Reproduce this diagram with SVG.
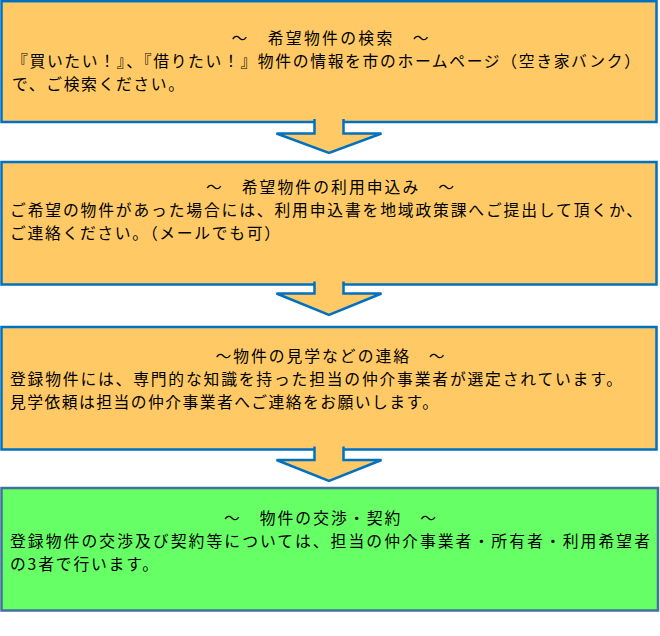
<svg xmlns="http://www.w3.org/2000/svg" width="660" height="636" viewBox="0 0 660 636">
<style>
.box{fill:#FFCA66;stroke:#0070C0;stroke-width:2.5}
.box-green{fill:#66FF66;stroke:#41719C;stroke-width:2.5}
.arrow{fill:#FFCA66;stroke:#0070C0;stroke-width:2.5;stroke-linejoin:miter}
text{font-family:"Noto Sans CJK JP","Noto Sans CJK SC",sans-serif;font-size:15.8px;fill:#000}
.title{text-anchor:middle}
</style>
<rect x="0" y="0" width="660" height="636" fill="#FFFFFF"/>
<g id="node-search">
<rect class="box" x="1.5" y="1.2" width="655" height="120.8"/>
<text class="title" x="330" y="44" textLength="197" lengthAdjust="spacing">～　希望物件の検索　～</text>
<text x="12" y="67" textLength="628" lengthAdjust="spacing">『買いたい！』、『借りたい！』物件の情報を市のホームページ（空き家バンク）</text>
<text x="12" y="90" textLength="172" lengthAdjust="spacing">で、ご検索ください。</text>
</g>
<g id="node-apply">
<rect class="box" x="1.5" y="162" width="655" height="122.5"/>
<text class="title" x="330" y="193" textLength="248" lengthAdjust="spacing">～　希望物件の利用申込み　～</text>
<text x="10" y="216" textLength="632" lengthAdjust="spacing">ご希望の物件があった場合には、利用申込書を地域政策課へご提出して頂くか、</text>
<text x="10" y="239" textLength="270" lengthAdjust="spacing">ご連絡ください。（メールでも可）</text>
</g>
<g id="node-visit">
<rect class="box" x="1.5" y="327" width="655" height="122.5"/>
<text class="title" x="330" y="362" textLength="229" lengthAdjust="spacing">～物件の見学などの連絡　～</text>
<text x="10" y="385" textLength="612" lengthAdjust="spacing">登録物件には、専門的な知識を持った担当の仲介事業者が選定されています。</text>
<text x="10" y="408" textLength="428" lengthAdjust="spacing">見学依頼は担当の仲介事業者へご連絡をお願いします。</text>
</g>
<g id="node-contract">
<rect class="box-green" x="1.5" y="488" width="656.5" height="122.5"/>
<text class="title" x="330" y="524" textLength="212" lengthAdjust="spacing">～　物件の交渉・契約　～</text>
<text x="10" y="547" textLength="640" lengthAdjust="spacing">登録物件の交渉及び契約等については、担当の仲介事業者・所有者・利用希望者</text>
<text x="10" y="570" textLength="148" lengthAdjust="spacing">の3者で行います。</text>
</g>
<g id="connectors">
<path class="arrow" d="M314.5,119 V133.5 H276.5 L329,153 L381.5,133.5 H343.5 V119"/>
<path class="arrow" d="M314.5,281.5 V293.5 H276.5 L329,315 L381.5,293.5 H343.5 V281.5"/>
<path class="arrow" d="M314.5,446.5 V460 H276.5 L329,481 L381.5,460 H343.5 V446.5"/>
</g>
</svg>
